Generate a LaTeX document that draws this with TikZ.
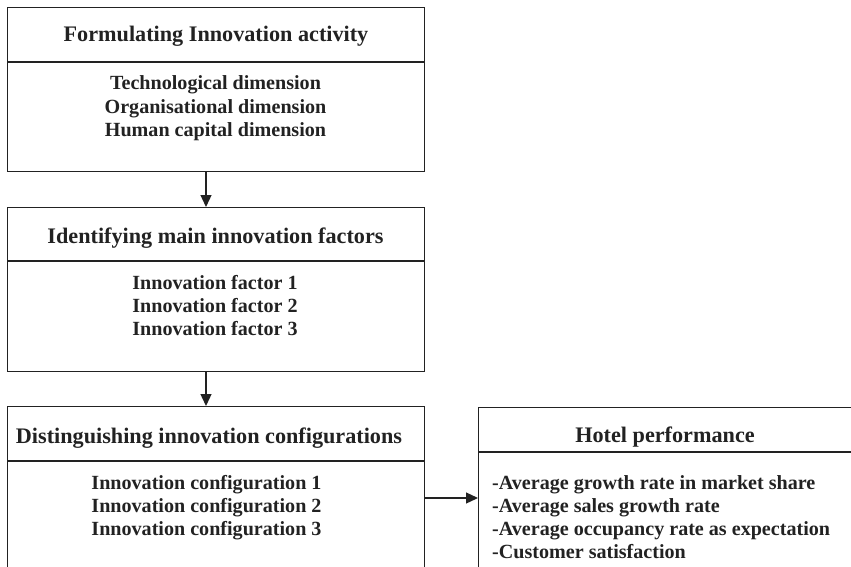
\documentclass[tikz,border=0pt]{standalone}
\usepackage{fontspec}
\setmainfont{Liberation Serif}
\usetikzlibrary{arrows.meta}
\definecolor{ink}{HTML}{222222}
\tikzset{
  panel/.style={draw=ink, line width=1.3pt, rectangle, inner sep=0pt, anchor=north west},
  rule/.style={draw=ink, line width=1.3pt},
  head/.style={anchor=base, inner sep=0pt, text=ink, font=\fontsize{22.2}{26}\selectfont\bfseries},
  item/.style={anchor=base, inner sep=0pt, text=ink, font=\fontsize{20.1}{23}\selectfont\bfseries},
  flow/.style={draw=ink, line width=1.3pt, -{Triangle[width=11pt,length=12pt]}}
}
\begin{document}
\begin{tikzpicture}[x=1pt, y=-1pt]
  \useasboundingbox (0,0) rectangle (851,567);
  \begin{scope}
  \clip (0,0) rectangle (851,567);

  % stage 1
  \node[panel, minimum width=417pt, minimum height=164pt] (s1) at (7,7) {};
  \draw[rule] (7,62) -- (424,62);
  \node[head] (s1h) at (216,42) {Formulating Innovation activity};
  \node[item] (s1a) at (215.5,90) {Technological dimension};
  \node[item] (s1b) at (215.5,113.5) {Organisational dimension};
  \node[item] (s1c) at (215.5,137) {Human capital dimension};

  % stage 2
  \node[panel, minimum width=417pt, minimum height=164pt] (s2) at (7,207) {};
  \draw[rule] (7,261) -- (424,261);
  \node[head] (s2h) at (215.5,243) {Identifying main innovation factors};
  \node[item] (s2a) at (215,289) {Innovation factor 1};
  \node[item] (s2b) at (215,312) {Innovation factor 2};
  \node[item] (s2c) at (215,335) {Innovation factor 3};

  % stage 3
  \node[panel, minimum width=417pt, minimum height=175pt] (s3) at (7,406) {};
  \draw[rule] (7,461) -- (424,461);
  \node[head] (s3h) at (209,443) {Distinguishing innovation configurations};
  \node[item] (s3a) at (206.5,489) {Innovation configuration 1};
  \node[item] (s3b) at (206.5,512) {Innovation configuration 2};
  \node[item] (s3c) at (206.5,535) {Innovation configuration 3};

  % outcome
  \node[panel, minimum width=375pt, minimum height=175pt] (hp) at (478,407) {};
  \draw[rule] (478,452) -- (853,452);
  \node[head] (hph) at (665,442) {Hotel performance};
  \node[item, anchor=base west] (hpa) at (492,489) {-Average growth rate in market share};
  \node[item, anchor=base west] (hpb) at (492,512) {-Average sales growth rate};
  \node[item, anchor=base west] (hpc) at (492,535) {-Average occupancy rate as expectation};
  \node[item, anchor=base west] (hpd) at (492,558) {-Customer satisfaction};

  % connectors
  \coordinate (lane) at (206,0);
  \coordinate (level) at (0,498);
  \draw[flow] (s1.south -| lane) -- (s2.north -| lane);
  \draw[flow] (s2.south -| lane) -- (s3.north -| lane);
  \draw[flow] (s3.east |- level) -- (hp.west |- level);
  \end{scope}
\end{tikzpicture}
\end{document}
